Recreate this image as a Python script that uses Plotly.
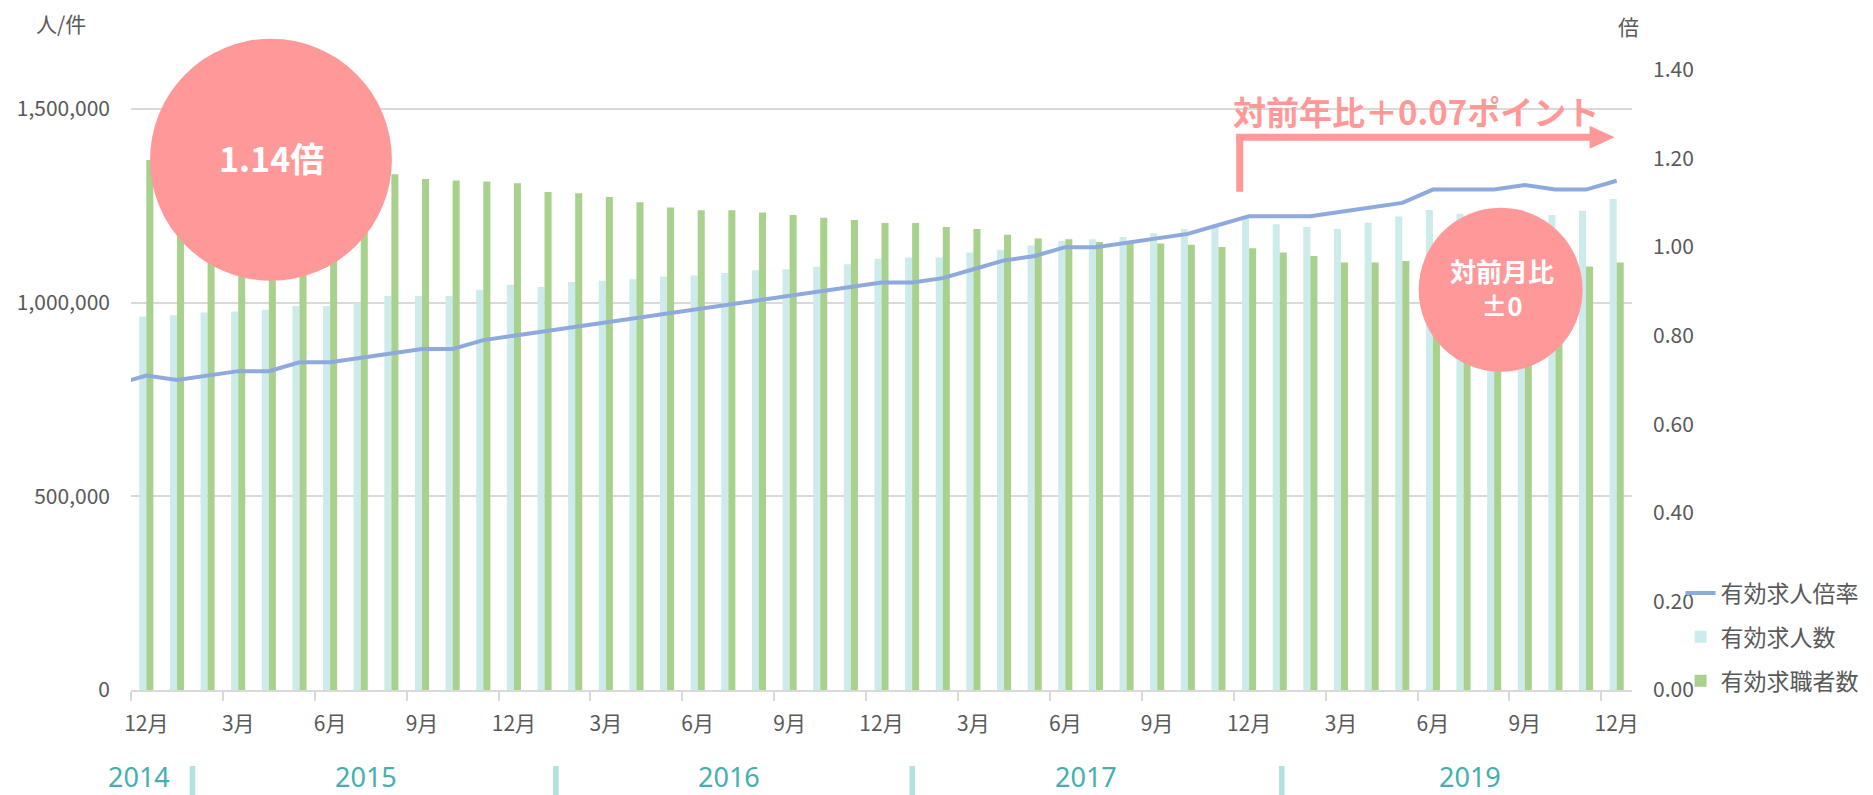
import plotly.graph_objects as go

# ---------------- data ----------------
month_labels = ["12月", "3月", "6月", "9月"]
n_months = 49  # 2014/12 .. 2018/12

# ratio series starts one month earlier (2014/11); that point sits outside the axis range
ratio_x = list(range(-1, 49))
ratio = [0.69,
         0.71, 0.70, 0.71, 0.72, 0.72, 0.74, 0.74, 0.75, 0.76, 0.77, 0.77, 0.79,
         0.80, 0.81, 0.82, 0.83, 0.84, 0.85, 0.86, 0.87, 0.88, 0.89, 0.90, 0.91,
         0.92, 0.92, 0.93, 0.95, 0.97, 0.98, 1.00, 1.00, 1.01, 1.02, 1.03, 1.05,
         1.07, 1.07, 1.07, 1.08, 1.09, 1.10, 1.13, 1.13, 1.13, 1.14, 1.13, 1.13,
         1.15]

job_offers = [964000, 967000, 974000, 977000, 981000, 991000, 991000, 999000, 1017000, 1017000, 1017000, 1033000,
              1046000, 1040000, 1053000, 1056000, 1060000, 1067000, 1070000, 1076000, 1083000, 1086000, 1092000, 1099000,
              1113000, 1116000, 1116000, 1129000, 1136000, 1147000, 1159000, 1163000, 1169000, 1179000, 1190000, 1201000,
              1221000, 1202000, 1195000, 1190000, 1206000, 1222000, 1239000, 1229000, 1230000, 1235000, 1226000, 1237000,
              1267000]

job_seekers = [1368000, 1365000, 1360000, 1352000, 1350000, 1336000, 1336000, 1332000, 1331000, 1319000, 1315000, 1312000,
               1308000, 1285000, 1282000, 1272000, 1259000, 1245000, 1238000, 1238000, 1232000, 1226000, 1219000, 1213000,
               1205000, 1205000, 1195000, 1190000, 1175000, 1165000, 1163000, 1156000, 1153000, 1152000, 1149000, 1143000,
               1140000, 1129000, 1120000, 1103000, 1103000, 1107000, 1105000, 1090000, 1085000, 1085000, 1087000, 1093000,
               1103000]

year_labels = ["2014", "2015", "2016", "2017", "2019"]

x = list(range(n_months))
tick_pos = list(range(0, n_months, 3))
tick_text = [month_labels[i % 4] for i in range(len(tick_pos))]

# ---------------- layout geometry (pixels) ----------------
W, H = 1873, 795
L, R, T, B = 131, 1632.4, 70.3, 690.0
PW, PH = R - L, B - T


def px(xs):
    return (xs - L) / PW


def py(ys):
    return (B - ys) / PH


FONT = "Noto Sans CJK JP, Noto Sans, sans-serif"
LATIN = "Noto Sans, sans-serif"
GREY = "#595959"
PINK = "#FF9999"
TEAL = "#45AFAF"
SEP = "#B4E0E0"

fig = go.Figure()

fig.add_trace(go.Scatter(x=ratio_x, y=ratio, name="有効求人倍率", mode="lines",
                         line=dict(color="#8EA9DB", width=4),
                         yaxis="y2", legendgroup="a"))
fig.add_trace(go.Bar(x=x, y=job_offers, name="有効求人数",
                     marker=dict(color="#CDEBEB", line=dict(width=0)),
                     yaxis="y", legendgroup="b"))
fig.add_trace(go.Bar(x=x, y=job_seekers, name="有効求職者数",
                     marker=dict(color="#A9D18E", line=dict(width=0)),
                     yaxis="y", legendgroup="c"))

shapes = []


def circle(cx, cy, r):
    return dict(type="circle", xref="paper", yref="paper",
                x0=px(cx - r), x1=px(cx + r), y0=py(cy + r), y1=py(cy - r),
                fillcolor=PINK, line=dict(width=0), layer="above")


shapes.append(circle(271, 160, 121))
shapes.append(circle(1501, 290, 82))

# elbow arrow
shapes.append(dict(type="line", xref="paper", yref="paper",
                   x0=px(1240), x1=px(1240), y0=py(192), y1=py(136),
                   line=dict(color=PINK, width=7), layer="above"))
shapes.append(dict(type="line", xref="paper", yref="paper",
                   x0=px(1236.5), x1=px(1592), y0=py(137.5), y1=py(137.5),
                   line=dict(color=PINK, width=7), layer="above"))
shapes.append(dict(type="path", xref="paper", yref="paper",
                   path=f"M {px(1590)} {py(126)} L {px(1615)} {py(137.5)} L {px(1590)} {py(149)} Z",
                   fillcolor=PINK, line=dict(width=0), layer="above"))

# year separators
for sx in [192.5, 556, 912.5, 1282]:
    shapes.append(dict(type="rect", xref="paper", yref="paper",
                       x0=px(sx - 2.8), x1=px(sx + 2.8), y0=py(795), y1=py(766),
                       fillcolor=SEP, line=dict(width=0), layer="above"))

annotations = []


def label(xs, ys, text, size, color, family=FONT):
    annotations.append(dict(xref="paper", yref="paper", x=px(xs), y=py(ys),
                            xanchor="center", yanchor="middle",
                            text=text, showarrow=False,
                            font=dict(family=family, size=size, color=color)))


label(272, 158, "<b>1.14倍</b>", 34, "white")
label(1502, 288, "<b>対前月比<br>±0</b>", 26, "white")
label(1416, 111, "<b>対前年比＋0.07ポイント</b>", 33, PINK)
label(61, 23, "人/件", 21, GREY)
label(1629, 26, "倍", 21, GREY)
for lbl, cx in zip(year_labels, [139, 366, 729, 1086, 1470]):
    label(cx, 776, lbl, 27, TEAL, LATIN)

fig.update_layout(
    width=W, height=H,
    margin=dict(l=L, r=W - R, t=T, b=H - B, autoexpand=False),
    paper_bgcolor="white", plot_bgcolor="white",
    barmode="group", bargap=0.54, bargroupgap=0,
    font=dict(family=FONT, color=GREY, size=21),
    showlegend=True,
    legend=dict(x=px(1681), xanchor="left", y=py(637), yanchor="middle",
                font=dict(family=FONT, size=23, color=GREY),
                itemwidth=30, tracegroupgap=11, traceorder="grouped",
                bgcolor="rgba(0,0,0,0)"),
    xaxis=dict(range=[-0.5, n_months - 0.5], tickmode="array",
               tickvals=tick_pos, ticktext=tick_text, ticks="",
               showgrid=False, zeroline=False, showline=True,
               linecolor="#D9D9D9", linewidth=1.5,
               ticklabelstandoff=14,
               tickfont=dict(family=FONT, size=21, color=GREY),
               minor=dict(tickmode="array",
                          tickvals=[-0.5 + 3 * k for k in range(17)],
                          ticks="outside", ticklen=9, tickwidth=1.5,
                          tickcolor="#D9D9D9", showgrid=False)),
    yaxis=dict(range=[0, 1600000], tickmode="array",
               tickvals=[0, 500000, 1000000, 1500000], tickformat=",d",
               showgrid=True, gridcolor="#D9D9D9", gridwidth=1.5,
               zeroline=False, showline=False, ticks="",
               ticklabelstandoff=20,
               tickfont=dict(family=FONT, size=21, color=GREY)),
    yaxis2=dict(range=[0, 1.4], overlaying="y", side="right",
                tickmode="array", tickvals=[0, 0.2, 0.4, 0.6, 0.8, 1.0, 1.2, 1.4],
                tickformat=".2f", showgrid=False, zeroline=False,
                showline=False, ticks="", ticklabelstandoff=20,
                tickfont=dict(family=FONT, size=21, color=GREY)),
    shapes=shapes, annotations=annotations,
)

# remove the default 8px page margin so the figure fills the window exactly
fig.write_html("out.html", config={"displayModeBar": False},
               post_script="document.body.style.margin='0';document.body.style.overflow='hidden';")
